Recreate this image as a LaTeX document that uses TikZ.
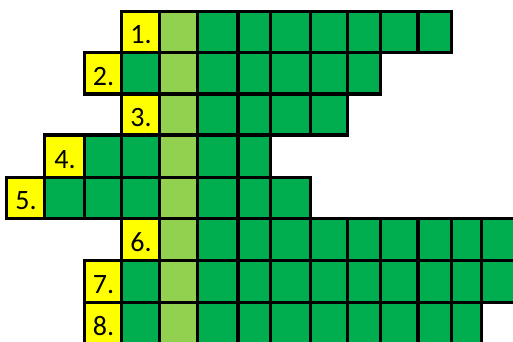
\documentclass[tikz,border=0pt]{standalone}
\usepackage{fontspec}
\setmainfont{Carlito}
\definecolor{cgreen}{HTML}{00AE4F}
\definecolor{clight}{HTML}{92D050}
\definecolor{cyel}{HTML}{FFFF00}
\begin{document}
\begin{tikzpicture}[x=1pt,y=-1pt,
  cell/.style={draw=black,line width=3.3pt},
  lbl/.style={font=\fontsize{28}{28}\selectfont, anchor=base, inner sep=0pt}]
\useasboundingbox (0,0) rectangle (513,342);
\clip (0,0) rectangle (513,342);
\def\bx{{6.5,44.5,84.5,121.5,159.5,197.5,238,270.5,310.5,347.5,380.5,418,451.5,481.5,522}}
\def\by{{11.5,52.5,94,135,177.5,218.5,260.5,302.5,344}}
\foreach \n/\s/\e in {1/3/12,2/2/10,3/3/9,4/1/7,5/0/8,6/3/14,7/2/14,8/2/13} {
  \pgfmathsetmacro\ya{\by[\n-1]}
  \pgfmathsetmacro\yb{\by[\n]}
  \pgfmathtruncatemacro\ee{\e-1}
  \foreach \c in {\s,...,\ee} {
    \pgfmathsetmacro\xa{\bx[\c]}
    \pgfmathtruncatemacro\cn{\c+1}
    \pgfmathsetmacro\xb{\bx[\cn]}
    \ifnum\c=\s
      \path[cell,fill=cyel] (\xa,\ya) rectangle (\xb,\yb);
      \node[lbl] (l\n) at ({(\xa+\xb)/2+0.5},{\yb-9}) {\n.};
    \else\ifnum\c=4
      \path[cell,fill=clight] (\xa,\ya) rectangle (\xb,\yb);
    \else
      \path[cell,fill=cgreen] (\xa,\ya) rectangle (\xb,\yb);
    \fi\fi
  }
}
\end{tikzpicture}
\end{document}
